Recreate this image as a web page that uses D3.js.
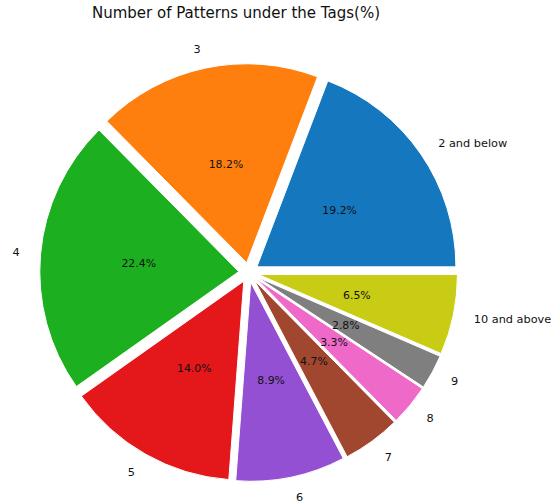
<!DOCTYPE html>
<html>
<head>
<meta charset="utf-8">
<script src="https://cdn.jsdelivr.net/npm/d3@7"></script>
<style>
  body { margin: 0; background: white; }
  svg { display: block; font-family: "DejaVu Sans", sans-serif; }
</style>
</head>
<body>
<svg id="chart"></svg>
<script>
// data
var labels = ["2 and below", "3", "4", "5", "6", "7", "8", "9", "10 and above"];
var values = [19.2, 18.2, 22.4, 14.0, 8.9, 4.7, 3.3, 2.8, 6.5];
var colors = ["#1577bd", "#ff7f0e", "#1caf1f", "#e4171b", "#9350d2", "#a1462f", "#ef69c9", "#7f7f7f", "#c9cc15"];

var width = 551, height = 503;
var cx = 248.7, cy = 272.5, R = 199;
var explode = 0.05, pctDist = 0.505, labelDist = 1.1;

var svg = d3.select("#chart")
  .attr("width", width)
  .attr("height", height);

// matplotlib style: start at 3 o'clock, counterclockwise
var pie = d3.pie()
  .sort(null)
  .value(function(d) { return d.value; })
  .startAngle(Math.PI / 2)
  .endAngle(Math.PI / 2 - 2 * Math.PI);

var data = labels.map(function(l, i) {
  return { label: l, value: values[i], color: colors[i] };
});

var arcs = pie(data);

var arc = d3.arc()
  .innerRadius(0)
  .outerRadius(R);

function dir(d) {
  var a = (d.startAngle + d.endAngle) / 2;
  return [Math.sin(a), -Math.cos(a)];
}

var g = svg.append("g")
  .attr("transform", "translate(" + cx + "," + cy + ")");

var slice = g.selectAll("g.slice")
  .data(arcs)
  .enter()
  .append("g")
  .attr("class", "slice")
  .attr("transform", function(d) {
    var v = dir(d);
    return "translate(" + (v[0] * explode * R) + "," + (v[1] * explode * R) + ")";
  });

slice.append("path")
  .attr("d", arc)
  .attr("fill", function(d) { return d.data.color; })
  .attr("stroke", "white")
  .attr("stroke-width", 1)
  .attr("stroke-linejoin", "round");

// percentages
slice.append("text")
  .attr("x", function(d) { return dir(d)[0] * pctDist * R; })
  .attr("y", function(d) { return dir(d)[1] * pctDist * R; })
  .attr("text-anchor", "middle")
  .attr("dy", "0.35em")
  .attr("font-size", "10.9px")
  .attr("fill", "#111")
  .text(function(d) { return d.data.value.toFixed(1) + "%"; });

// category labels
slice.append("text")
  .attr("x", function(d) { return dir(d)[0] * labelDist * R + (dir(d)[0] > 0 ? 1 : -1); })
  .attr("y", function(d) { return dir(d)[1] * labelDist * R; })
  .attr("text-anchor", function(d) { return dir(d)[0] > 0 ? "start" : "end"; })
  .attr("dy", "0.35em")
  .attr("font-size", "11.3px")
  .attr("fill", "#111")
  .text(function(d) { return d.data.label; });

svg.append("text")
  .attr("x", 236)
  .attr("y", 17.5)
  .attr("text-anchor", "middle")
  .attr("font-size", "15px")
  .attr("fill", "#111")
  .text("Number of Patterns under the Tags(%)");
</script>
</body>
</html>
